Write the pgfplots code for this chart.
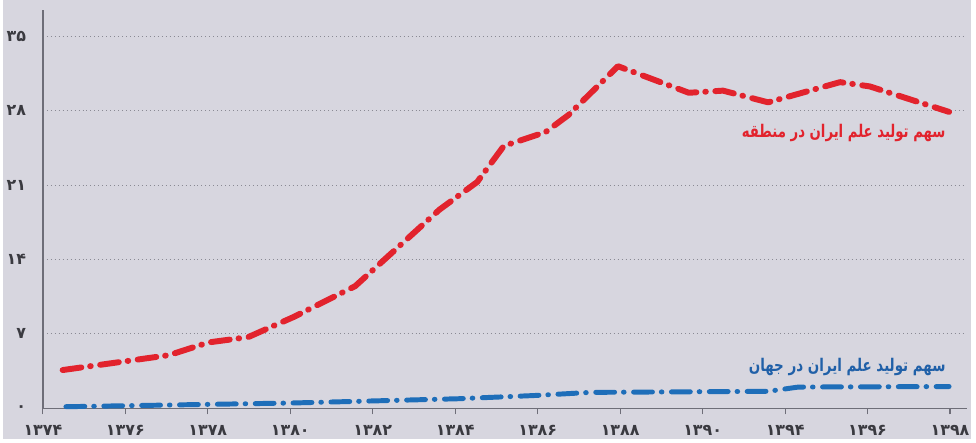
\documentclass[border=0pt]{standalone}
\usepackage{graphicx}
\usepackage{pgfplots}
\pgfplotsset{compat=1.18}
\usepackage{fontspec}
\setmainfont{DejaVu Sans}
\newfontfamily\arabicfont[Script=Arabic]{DejaVu Sans}
\TeXXeTstate=1
\definecolor{bg}{HTML}{D7D6DF}
\definecolor{axgray}{HTML}{6E6E78}
\definecolor{gridgray}{HTML}{8A8A94}
\definecolor{lred}{HTML}{E2232D}
\definecolor{lblue}{HTML}{1E6EB9}
\definecolor{tblue}{HTML}{2060A8}
\definecolor{ticktext}{HTML}{3A3A40}
\begin{document}
\begin{tikzpicture}[x=1pt,y=1pt]
\fill[bg] (-20,-15.5) rectangle (468,206);
\begin{axis}[
  scale only axis, width=466pt, height=201pt,
  at={(0,0)}, anchor=south west,
  xmin=0, xmax=11.2, ymin=0, ymax=37.5,
  axis lines=left,
  axis line style={draw=axgray, line width=0.75pt, -},
  xtick={0,1,...,11},
  xticklabels={۱۳۷۴,۱۳۷۶,۱۳۷۸,۱۳۸۰,۱۳۸۲,۱۳۸۴,۱۳۸۶,۱۳۸۸,۱۳۹۰,۱۳۹۴,۱۳۹۶,۱۳۹۸},
  ytick={0,7,14,21,28,35},
  yticklabels={۰,۷,۱۴,۲۱,۲۸,۳۵},
  tick align=outside,
  major tick length=3pt,
  xtick style={draw=axgray, line width=0.6pt},
  ytick style={draw=none},
  ymajorgrids,
  grid style={draw=gridgray, line width=0.5pt, dash pattern=on 0.5pt off 1.5pt},
  ticklabel style={font=\arabicfont\bfseries\fontsize{8}{8}\selectfont, text=ticktext},
  xticklabel style={yshift=-2pt},
  yticklabel style={xshift=-2pt},
  clip=false,
]
\addplot[lred, line width=3pt, line cap=round, line join=round,
  dash pattern=on 9.5pt off 4.5pt on 0.3pt off 4.8pt] coordinates {
(0.240,3.6) (1.527,5.0) (2.008,6.2) (2.489,6.7) (3.042,8.6)
(3.787,11.5) (4.809,18.7) (5.266,21.3) (5.590,24.7) (6.095,26.0)
(6.372,27.6) (6.973,32.2) (7.832,29.7) (8.247,29.9) (8.794,28.8)
(9.666,30.7) (10.026,30.3) (10.988,27.9)
};
\addplot[lblue, line width=2.5pt, line cap=round, line join=round,
  dash pattern=on 9.5pt off 4.5pt on 0.3pt off 4.8pt] coordinates {
(0.280,0.15) (3.024,0.5) (5.037,0.9) (5.951,1.2) (6.642,1.5)
(8.794,1.6) (9.161,2.0) (10.988,2.05)
};
\node[anchor=east, text=lred, font=\arabicfont\bfseries\fontsize{8.8}{8.8}\selectfont, inner sep=0pt]
  at (axis cs:10.95,25.9) {\scalebox{0.76}[1]{\beginR سهم تولید علم ایران در منطقه\endR}};
\node[anchor=east, text=tblue, font=\arabicfont\bfseries\fontsize{8.8}{8.8}\selectfont, inner sep=0pt]
  at (axis cs:10.95,3.9) {\scalebox{0.77}[1]{\beginR سهم تولید علم ایران در جهان\endR}};
\end{axis}
\end{tikzpicture}
\end{document}
